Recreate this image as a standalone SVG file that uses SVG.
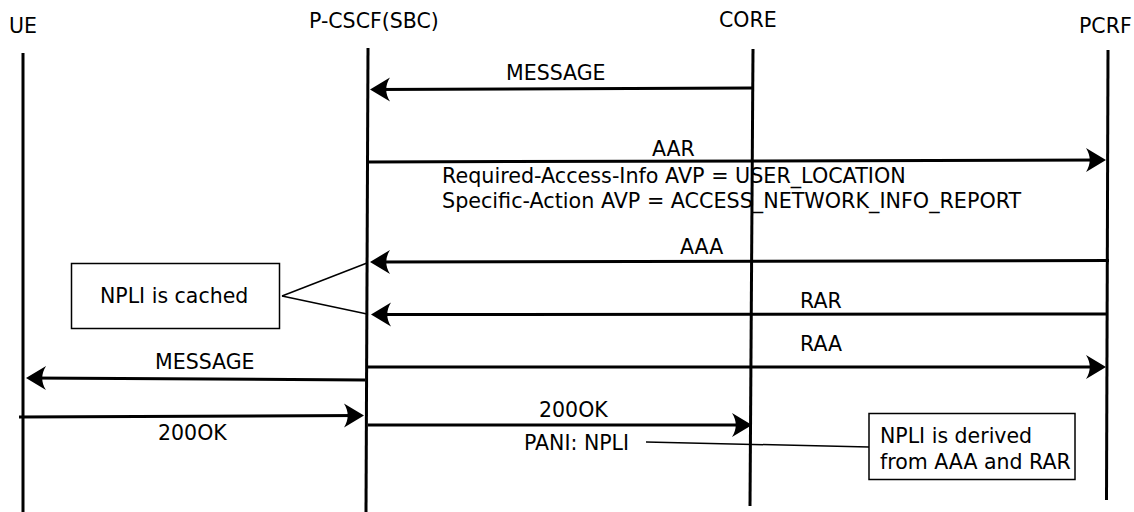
<svg xmlns="http://www.w3.org/2000/svg" width="1134" height="512" viewBox="0 0 1134 512">
<style>
text { font-family: "DejaVu Sans", "Liberation Sans", sans-serif; font-size: 20.5px; fill: #000; }
text.long { font-size: 20.7px; }
.life { stroke: #000; stroke-width: 3; fill: none; }
.msg { stroke: #000; stroke-width: 3; fill: none; marker-end: url(#arrow); }
.note { fill: #fff; stroke: #000; stroke-width: 1.5; }
.link { stroke: #000; stroke-width: 1.5; fill: none; }
</style>
<defs>
<marker id="arrow" markerUnits="userSpaceOnUse" viewBox="-20 -13 26 26" markerWidth="26" markerHeight="26" refX="0" refY="0" orient="auto" overflow="visible">
<path d="M4,0 L-16,-12 C-11,-4 -11,4 -16,12 Z" fill="#000"/>
</marker>
</defs>
<rect width="1134" height="512" fill="#fff"/>
<g id="ue">
<text x="9" y="33">UE</text>
<line class="life" x1="23" y1="53" x2="23" y2="512"/>
</g>
<g id="pcscf">
<text x="309" y="28">P-CSCF(SBC)</text>
<line class="life" x1="368" y1="48" x2="366" y2="512"/>
</g>
<g id="core">
<text x="719" y="27">CORE</text>
<line class="life" x1="753" y1="49" x2="750" y2="506"/>
</g>
<g id="pcrf">
<text x="1079" y="33">PCRF</text>
<line class="life" x1="1108" y1="50" x2="1106.5" y2="500"/>
</g>
<g id="connectors">
<line class="msg" x1="753" y1="88" x2="374" y2="89.5"/>
<text x="506" y="80">MESSAGE</text>
<line class="msg" x1="368" y1="162" x2="1102" y2="160"/>
<text x="652" y="156">AAR</text>
<text class="long" x="442" y="183">Required-Access-Info AVP = USER_LOCATION</text>
<text class="long" x="442" y="208">Specific-Action AVP = ACCESS_NETWORK_INFO_REPORT</text>
<line class="msg" x1="1109" y1="260.5" x2="374" y2="262"/>
<text x="680" y="254">AAA</text>
<line class="msg" x1="1106" y1="314" x2="375" y2="314.5"/>
<text x="800" y="308">RAR</text>
<line class="msg" x1="368" y1="367" x2="1102" y2="367"/>
<text x="800" y="351">RAA</text>
<line class="msg" x1="365" y1="380" x2="30" y2="378"/>
<text x="155" y="369">MESSAGE</text>
<line class="msg" x1="19" y1="417" x2="360" y2="415.5"/>
<text x="158" y="440">200OK</text>
<line class="msg" x1="368" y1="425" x2="748" y2="425"/>
<text x="539" y="417">200OK</text>
<text x="524" y="450">PANI: NPLI</text>
<line class="link" x1="282" y1="296" x2="367" y2="263"/>
<line class="link" x1="282" y1="296" x2="367" y2="314"/>
<line class="link" x1="646" y1="442" x2="869" y2="447"/>
</g>
<g id="note-cached">
<rect class="note" x="71.5" y="263.5" width="208" height="65"/>
<text x="100" y="303">NPLI is cached</text>
</g>
<g id="note-derived">
<rect class="note" x="869" y="413.5" width="206" height="66"/>
<text x="880" y="443">NPLI is derived</text>
<text x="880" y="469">from AAA and RAR</text>
</g>
</svg>
